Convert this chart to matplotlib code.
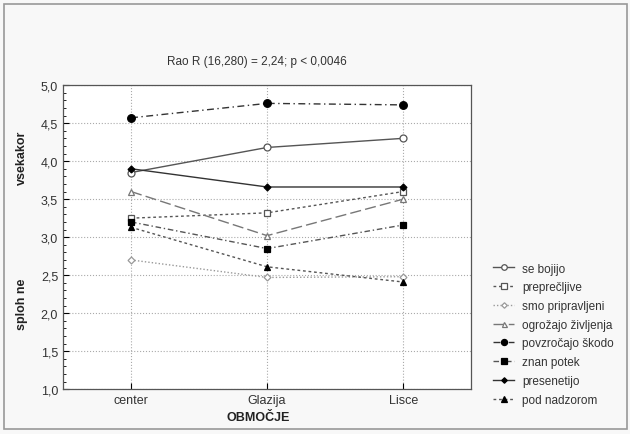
import matplotlib

matplotlib.use("Agg")
import matplotlib.pyplot as plt
from matplotlib.patches import Rectangle
from matplotlib.ticker import MultipleLocator, FuncFormatter

areas = ["center", "Glazija", "Lisce"]
series_names = [
    "se bojijo",
    "preprečljive",
    "smo pripravljeni",
    "ogrožajo življenja",
    "povzročajo škodo",
    "znan potek",
    "presenetijo",
    "pod nadzorom",
]
se_bojijo = [3.85, 4.18, 4.30]
preprecljive = [3.25, 3.32, 3.60]
smo_pripravljeni = [2.70, 2.47, 2.48]
ogrozajo = [3.60, 3.02, 3.50]
povzrocajo = [4.57, 4.76, 4.74]
znan_potek = [3.20, 2.85, 3.16]
presenetijo = [3.90, 3.66, 3.66]
pod_nadzorom = [3.13, 2.61, 2.41]
values = [se_bojijo, preprecljive, smo_pripravljeni, ogrozajo,
          povzrocajo, znan_potek, presenetijo, pod_nadzorom]

styles = [
    dict(ls="-", marker="o", ms=5, mfc="white", color="#555555"),
    dict(ls=(0, (2, 2)), marker="s", ms=5, mfc="white", color="#555555"),
    dict(ls=(0, (1, 1.5)), marker="D", ms=3.5, mfc="white", color="#999999"),
    dict(ls=(0, (8, 3)), marker="^", ms=4.5, mfc="white", color="#777777"),
    dict(ls=(0, (5, 2.5, 1, 2.5)), marker="o", ms=5.5, mfc="black", color="#333333"),
    dict(ls=(0, (4, 2, 1, 2)), marker="s", ms=5, mfc="black", color="#555555"),
    dict(ls="-", marker="D", ms=3.5, mfc="black", color="#333333"),
    dict(ls=(0, (2, 2)), marker="^", ms=5, mfc="black", color="#555555"),
]

plt.rcParams["font.family"] = ["Liberation Sans", "DejaVu Sans"]
fig = plt.figure(figsize=(6.3, 4.35), dpi=100, facecolor="#f8f8f8")
fig.patches.append(Rectangle((0.006, 0.012), 0.99, 0.976, transform=fig.transFigure,
                             fill=False, edgecolor="#999999", lw=1.2))
ax = fig.add_axes([0.1, 0.103, 0.648, 0.699])
ax.set_facecolor("white")

x = list(range(len(areas)))
for name, vals, st in zip(series_names, values, styles):
    ax.plot(x, vals, label=name, lw=1.0, mec=st["color"] if st["mfc"] == "white" else "black",
            mew=0.9, **st)

ax.set_xlim(-0.5, 2.5)
ax.set_ylim(1.0, 5.0)
ax.set_xticks(x)
ax.set_xticklabels(areas, fontsize=9, color="#333333")
ax.yaxis.set_major_locator(MultipleLocator(0.5))
ax.yaxis.set_minor_locator(MultipleLocator(0.1))
ax.yaxis.set_major_formatter(FuncFormatter(lambda v, p: f"{v:.1f}".replace(".", ",")))
ax.tick_params(axis="y", labelsize=9, labelcolor="#333333", direction="in", length=4)
ax.tick_params(axis="y", which="minor", direction="in", length=2)
ax.tick_params(axis="x", direction="in", length=4)
ax.grid(True, ls=":", color="#aaaaaa", lw=0.8)
for s in ax.spines.values():
    s.set_color("#555555")
    s.set_linewidth(0.9)

fig.text(0.408, 0.857, "Rao R (16,280) = 2,24; p < 0,0046", ha="center", va="center",
         fontsize=8.5, color="#333333")
fig.text(0.41, 0.04, "OBMOČJE", ha="center", va="center", fontsize=9,
         fontweight="bold", color="#222222")
fig.text(0.035, 0.637, "vsekakor", rotation=90, ha="center", va="center", fontsize=9,
         fontweight="bold", color="#222222")
fig.text(0.035, 0.30, "sploh ne", rotation=90, ha="center", va="center", fontsize=9,
         fontweight="bold", color="#222222")

fig.legend(loc="upper left", bbox_to_anchor=(0.775, 0.405), frameon=False, fontsize=8.5,
           handlelength=1.8, handletextpad=0.7, labelspacing=0.57, borderaxespad=0,
           markerscale=0.8, labelcolor="#333333")

fig.savefig("out.png", dpi=100, facecolor=fig.get_facecolor())
